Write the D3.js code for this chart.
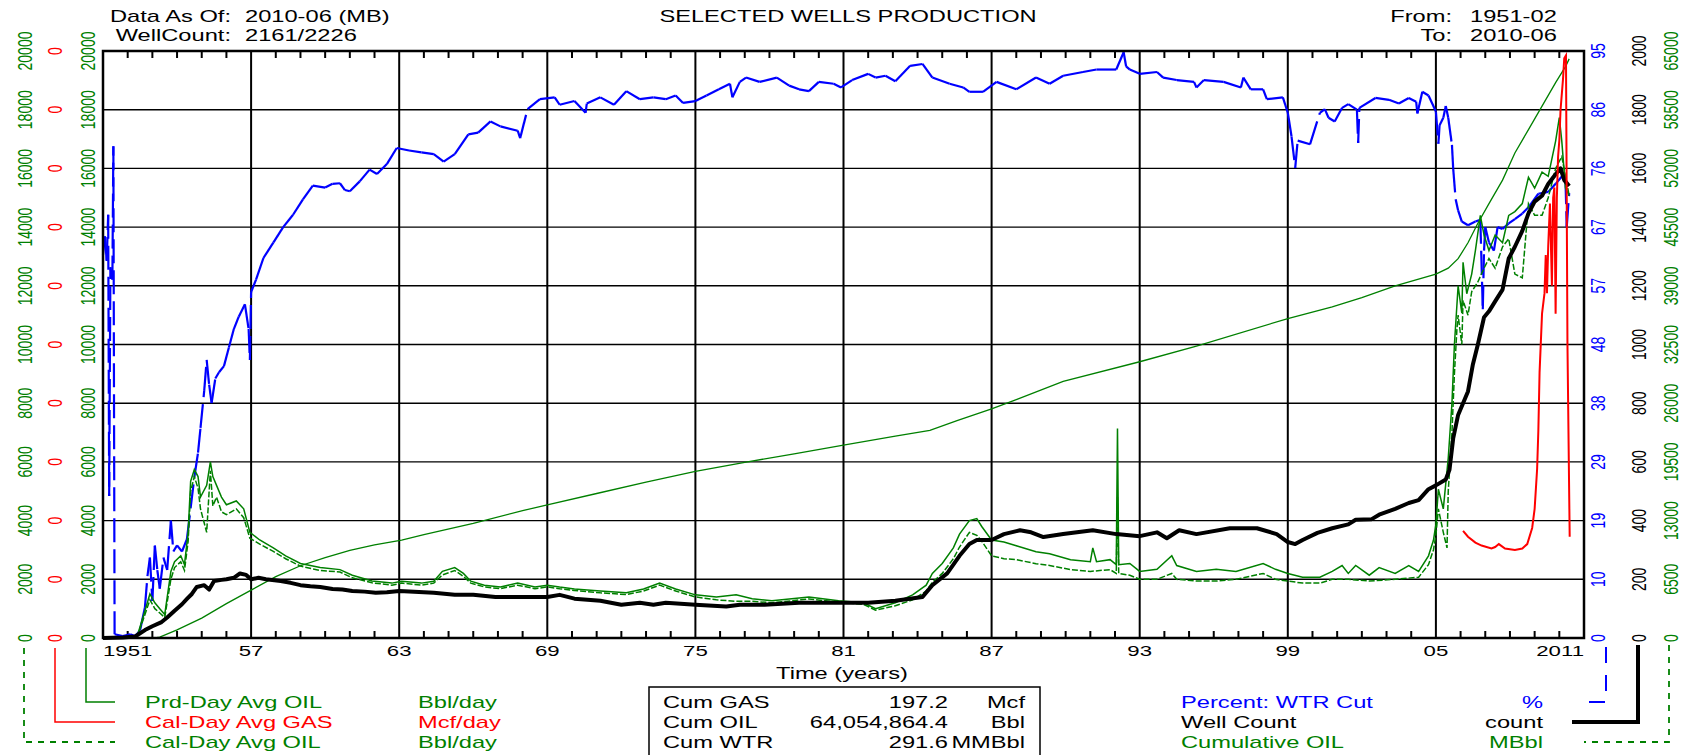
<!DOCTYPE html>
<html>
<head>
<meta charset="utf-8">
<script src="https://cdn.jsdelivr.net/npm/d3@7"></script>
<style>
  body { margin: 0; background: #fff; }
  svg { display: block; }
  text { font-family: Arial, "Liberation Sans", sans-serif; }
</style>
</head>
<body>
<svg id="chart" width="1684" height="755"></svg>
<script>
// Percent WTR cut (%), [year, value]
const wtrCut = [
  [1951.0,62],[1951.08,65],[1951.15,61],[1951.21,68.5],[1951.25,23],[1951.3,60],[1951.38,58],
  [1951.42,79.6],[1951.47,0.6],[1951.8,0.3],[1952.1,0.6],[1952.3,0.3],[1952.5,1.2],[1952.7,5],
  [1952.8,10],[1952.9,13],[1953.0,6],[1953.1,15],[1953.2,11],[1953.3,8],[1953.45,13],[1953.6,11],
  [1953.75,19],[1953.85,14],[1954.0,15],[1954.2,14],[1954.4,16],[1954.55,21],[1954.7,26],
  [1954.85,30],[1954.95,34],[1955.1,40],[1955.2,45],[1955.3,41],[1955.4,38],[1955.55,42],
  [1955.7,43],[1955.9,44],[1956.1,47],[1956.3,50],[1956.5,52],[1956.75,54],[1956.9,50],
  [1956.95,45],[1957.0,56],[1957.2,58],[1957.5,61.5],[1957.9,64],[1958.3,66.5],[1958.7,68.5],
  [1959.1,71],[1959.5,73.2],[1960.0,72.9],[1960.3,73.5],[1960.6,73.6],[1960.8,72.5],[1961.0,72.3],
  [1961.4,73.9],[1961.8,75.8],[1962.1,75.1],[1962.5,76.7],[1962.9,79.3],[1963.4,78.9],
  [1963.9,78.6],[1964.4,78.3],[1964.8,77.1],[1965.25,78.3],[1965.8,81.5],[1966.2,81.8],
  [1966.7,83.6],[1967.1,82.8],[1967.8,82.1],[1967.9,80.9],[1968.2,85.6],[1968.7,87.2],
  [1969.3,87.5],[1969.5,86.3],[1970.1,86.9],[1970.55,85.0],[1970.6,86.5],[1971.15,87.5],
  [1971.7,86.3],[1972.2,88.5],[1972.75,87.2],[1973.3,87.5],[1973.8,87.2],[1974.2,87.8],
  [1974.5,86.6],[1975.0,86.9],[1975.45,87.8],[1975.95,88.8],[1976.4,89.7],[1976.5,87.5],
  [1976.8,90.0],[1977.05,90.7],[1977.6,90.0],[1978.3,90.7],[1978.8,89.4],[1979.2,88.8],
  [1979.6,88.5],[1980.0,90.0],[1980.6,89.7],[1980.9,89.1],[1981.35,90.3],[1982.0,91.3],
  [1982.3,90.7],[1982.7,91.0],[1983.1,90.1],[1983.7,92.6],[1984.2,92.9],[1984.6,90.7],
  [1985.3,89.7],[1985.85,89.1],[1986.1,88.4],[1986.65,88.4],[1987.2,90.0],[1988.0,88.8],
  [1988.8,90.7],[1989.35,89.7],[1989.9,91.0],[1990.7,91.6],[1991.25,92.0],[1992.05,92.0],
  [1992.35,94.8],[1992.45,92.5],[1992.6,92.0],[1993.0,91.3],[1993.7,91.6],[1993.95,90.7],
  [1994.5,90.3],[1995.2,90.0],[1995.3,89.1],[1995.6,90.3],[1996.4,90.0],[1997.1,89.1],
  [1997.2,90.7],[1997.5,88.8],[1998.0,88.8],[1998.15,87.2],[1998.8,87.5],[1999.0,85.0],
  [1999.15,81.2],[1999.3,76.1],[1999.4,80.5],[1999.9,79.9],[2000.3,85.0],[2000.5,85.6],
  [2000.65,84.2],[2000.9,83.6],[2001.2,85.8],[2001.45,86.4],[2001.8,85.5],[2001.85,80.1],
  [2001.9,85.8],[2002.55,87.4],[2003.1,87.1],[2003.5,86.5],[2003.9,87.4],[2004.2,86.8],
  [2004.25,84.9],[2004.45,88.4],[2004.7,87.8],[2005.0,85.2],[2005.1,80.0],[2005.15,83.0],
  [2005.3,84.2],[2005.4,86.1],[2005.5,84.2],[2005.65,79.8],[2005.7,76.0],[2005.8,71.0],
  [2005.9,69.2],[2006.05,67.4],[2006.3,66.8],[2006.6,67.4],[2006.8,67.7],[2006.9,53.2],
  [2006.95,62.7],[2007.0,66.5],[2007.15,64.0],[2007.35,62.7],[2007.5,66.5],[2007.7,66.2],
  [2007.95,67.1],[2008.2,67.8],[2008.5,68.7],[2008.75,69.7],[2009.15,71.9],[2009.55,72.2],
  [2009.85,73.5],[2010.1,74.7],[2010.25,74.1],[2010.3,66.5],[2010.4,72]
];

// Well count, [year, count]
const wellCount = [
  [1951.0,0],[1951.8,2],[1952.3,5],[1952.7,27],[1953.0,40],[1953.35,53],[1953.6,70],[1953.9,93],
  [1954.2,115],[1954.4,133],[1954.6,150],[1954.8,174],[1955.1,180],[1955.3,165],[1955.5,194],
  [1955.8,198],[1956.0,200],[1956.3,205],[1956.55,220],[1956.8,215],[1957.0,200],[1957.3,205],
  [1957.6,200],[1958.2,194],[1958.6,188],[1959.0,180],[1959.4,176],[1959.8,174],[1960.3,167],
  [1960.7,165],[1961.1,160],[1961.6,158],[1962.05,154],[1962.5,156],[1963.0,160],[1964.4,154],
  [1965.25,147],[1966.0,147],[1966.9,140],[1967.8,140],[1969.0,140],[1969.5,147],[1970.1,134],
  [1971.15,127],[1972.0,113],[1972.75,120],[1973.3,113],[1973.8,120],[1975.0,113],[1976.25,107],
  [1976.8,113],[1977.8,113],[1979.2,120],[1981.0,120],[1982.0,120],[1983.1,127],[1984.2,140],
  [1984.6,180],[1985.2,220],[1985.7,280],[1986.1,320],[1986.4,334],[1987.0,334],[1987.5,354],
  [1988.15,367],[1988.6,360],[1989.1,344],[1989.9,354],[1991.1,367],[1992.05,354],[1993.0,347],
  [1993.7,360],[1994.1,340],[1994.6,367],[1995.3,354],[1996.65,374],[1997.75,374],[1998.55,354],
  [1999.0,327],[1999.3,320],[1999.6,334],[2000.2,358],[2000.8,374],[2001.45,387],[2001.75,403],
  [2002.4,405],[2002.7,420],[2003.35,440],[2003.9,460],[2004.3,470],[2004.7,507],[2005.0,520],
  [2005.4,540],[2005.55,573],[2005.7,680],[2005.9,760],[2006.1,800],[2006.3,840],[2006.5,933],
  [2006.7,1000],[2006.95,1093],[2007.15,1113],[2007.4,1147],[2007.7,1187],[2007.95,1293],
  [2008.2,1333],[2008.5,1387],[2008.75,1447],[2009.0,1487],[2009.3,1507],[2009.55,1547],
  [2009.85,1580],[2010.05,1600],[2010.2,1560],[2010.4,1540]
];

// Cumulative OIL (MBbl), [year, value]
const cumOil = [
  [1951.0,0],[1953.1,0],[1953.3,100],[1954.0,900],[1955.0,2200],[1956.0,3800],[1957.0,5300],
  [1958.0,6800],[1959.0,8000],[1960.0,8900],[1961.0,9700],[1962.0,10300],[1963.1,10850],
  [1964.0,11450],[1966.0,12700],[1968.0,14100],[1969.0,14750],[1971.0,16000],[1973.0,17250],
  [1975.0,18440],[1977.0,19450],[1979.0,20400],[1981.0,21350],[1983.1,22350],[1984.5,23000],
  [1985.6,24080],[1987.0,25380],[1988.0,26400],[1989.9,28420],[1993.0,30590],[1995.3,32330],
  [1999.0,35370],[2000.8,36670],[2002.0,37700],[2003.35,39000],[2005.0,40300],[2005.5,40950],
  [2005.9,42000],[2006.3,43770],[2006.7,45930],[2007.15,48100],[2007.7,50700],[2008.2,53700],
  [2008.75,56300],[2009.3,58900],[2009.85,61500],[2010.25,63270],[2010.4,64130]
];

// Prd-Day Avg OIL (Bbl/day), [year, value]
const prdOil = [
  [1951.0,0],[1952.0,0],[1952.4,100],[1952.7,930],[1952.9,1500],[1953.1,1200],[1953.3,1000],
  [1953.5,800],[1953.75,2270],[1953.9,2600],[1954.15,2800],[1954.3,2500],[1954.45,3600],
  [1954.55,5340],[1954.7,5740],[1954.85,5500],[1954.95,4800],[1955.2,5200],[1955.35,6000],
  [1955.45,5500],[1955.6,5200],[1955.8,4800],[1956.0,4540],[1956.4,4670],[1956.7,4400],
  [1956.95,3600],[1957.35,3340],[1957.9,3070],[1958.4,2800],[1959.0,2540],[1959.8,2400],
  [1960.6,2330],[1961.1,2140],[1961.9,1940],[1962.7,1870],[1963.1,1936],[1963.9,1870],
  [1964.4,1936],[1964.75,2270],[1965.25,2400],[1965.6,2200],[1965.9,1936],[1966.45,1800],
  [1967.1,1735],[1967.8,1870],[1968.5,1735],[1969.0,1800],[1969.5,1735],[1970.1,1670],
  [1971.15,1600],[1972.2,1540],[1972.9,1670],[1973.55,1870],[1974.2,1670],[1975.0,1470],
  [1975.85,1400],[1976.65,1470],[1977.3,1340],[1978.1,1270],[1979.6,1400],[1980.8,1270],
  [1981.8,1200],[1982.3,1000],[1983.1,1200],[1983.8,1470],[1984.35,1800],[1984.6,2200],
  [1985.0,2540],[1985.45,3070],[1985.7,3540],[1986.1,4000],[1986.4,4070],[1986.6,3800],
  [1987.0,3340],[1987.5,3270],[1988.0,3140],[1988.8,2940],[1989.35,2870],[1990.2,2670],
  [1991.0,2600],[1991.1,3070],[1991.25,2600],[1991.8,2670],[1992.05,2500],[1992.1,7140],
  [1992.15,2500],[1992.6,2540],[1993.0,2270],[1993.7,2340],[1994.3,2800],[1994.5,2470],
  [1995.3,2270],[1996.1,2340],[1996.9,2270],[1998.0,2540],[1998.5,2340],[1999.0,2200],
  [1999.6,2070],[2000.3,2070],[2000.8,2270],[2001.2,2470],[2001.45,2200],[2001.75,2470],
  [2002.3,2140],[2002.7,2400],[2003.35,2200],[2003.9,2470],[2004.3,2270],[2004.7,2800],
  [2004.9,3330],[2005.0,3870],[2005.1,5070],[2005.3,4400],[2005.5,6130],[2005.65,8000],
  [2005.75,10000],[2005.85,11330],[2005.9,12000],[2006.05,11070],[2006.1,12800],[2006.25,11730],
  [2006.45,12400],[2006.6,13200],[2006.8,14400],[2006.95,13730],[2007.15,13200],[2007.4,13730],
  [2007.7,13470],[2007.95,14400],[2008.2,14530],[2008.5,14800],[2008.75,15700],[2009.0,15330],
  [2009.3,15870],[2009.55,15730],[2009.85,16930],[2010.0,17730],[2010.1,16930],[2010.25,15330],
  [2010.4,15070]
];

// Cal-Day Avg OIL (Bbl/day), [year, value]
const calOil = [
  [1951.0,0],[1952.0,0],[1952.4,80],[1952.7,800],[1952.9,1300],[1953.1,1000],[1953.3,850],
  [1953.5,700],[1953.75,2000],[1953.9,2400],[1954.15,2600],[1954.3,2300],[1954.45,3300],
  [1954.55,5000],[1954.7,5500],[1954.85,5100],[1954.95,4400],[1955.2,3600],[1955.35,5700],
  [1955.45,4500],[1955.6,4800],[1955.8,4300],[1956.0,4200],[1956.4,4400],[1956.7,4100],
  [1956.95,3400],[1957.35,3200],[1957.9,2950],[1958.4,2700],[1959.0,2450],[1959.8,2300],
  [1960.6,2250],[1961.1,2050],[1961.9,1880],[1962.7,1800],[1963.1,1870],[1963.9,1800],
  [1964.4,1870],[1964.75,2150],[1965.25,2300],[1965.6,2100],[1965.9,1870],[1966.45,1740],
  [1967.1,1680],[1967.8,1800],[1968.5,1680],[1969.0,1740],[1969.5,1680],[1970.1,1620],
  [1971.15,1540],[1972.2,1480],[1972.9,1600],[1973.55,1800],[1974.2,1600],[1975.0,1400],
  [1975.85,1300],[1976.65,1250],[1977.3,1250],[1978.1,1200],[1979.6,1330],[1980.8,1220],
  [1981.8,1150],[1982.3,950],[1983.1,1100],[1983.8,1300],[1984.35,1600],[1984.6,1900],
  [1985.0,2200],[1985.45,2700],[1985.7,3100],[1986.1,3600],[1986.4,3500],[1986.6,3300],
  [1987.0,2800],[1987.5,2700],[1988.0,2670],[1988.8,2530],[1989.35,2470],[1990.2,2330],
  [1991.0,2270],[1991.8,2330],[1992.05,2200],[1992.1,4800],[1992.15,2200],[1992.6,2140],
  [1993.0,2000],[1993.7,2000],[1994.3,2200],[1994.5,2000],[1995.3,1940],[1996.1,1940],
  [1996.9,2000],[1998.0,2200],[1998.5,2000],[1999.0,1940],[1999.6,1870],[2000.3,1870],
  [2000.8,2000],[2001.45,2000],[2002.3,1940],[2003.35,2000],[2004.3,2070],[2004.7,2500],
  [2004.9,3000],[2005.0,3500],[2005.1,4400],[2005.3,3600],[2005.45,3070],[2005.5,5000],
  [2005.65,7000],[2005.75,9000],[2005.85,10500],[2005.9,11000],[2006.05,10000],[2006.1,11500],
  [2006.3,11000],[2006.45,11800],[2006.7,12130],[2006.95,12600],[2007.15,12930],[2007.4,12600],
  [2007.7,13330],[2007.95,13600],[2008.2,12400],[2008.5,12270],[2008.75,14800],[2009.0,14400],
  [2009.3,14400],[2009.55,15000],[2009.85,16000],[2010.1,16400],[2010.4,15070]
];

// Cal-Day Avg GAS (Mcf/day), [year, value]
const calGas = [
  [2006.1,0.073],[2006.3,0.069],[2006.6,0.065],[2006.85,0.063],[2007.25,0.061],[2007.4,0.062],
  [2007.55,0.064],[2007.8,0.061],[2008.2,0.060],[2008.5,0.061],[2008.7,0.064],[2008.9,0.075],
  [2009.0,0.088],[2009.1,0.115],[2009.15,0.141],[2009.2,0.181],[2009.3,0.221],[2009.4,0.235],
  [2009.45,0.261],[2009.5,0.235],[2009.55,0.267],[2009.62,0.296],[2009.7,0.240],[2009.75,0.300],
  [2009.8,0.307],[2009.85,0.221],[2009.9,0.300],[2009.95,0.328],[2010.0,0.339],[2010.05,0.360],
  [2010.15,0.381],[2010.2,0.395],[2010.27,0.397],[2010.33,0.200],[2010.42,0.069]
];

// axis ticks and labels
const oilTicks = d3.range(0, 20001, 2000);
const gasTicks = d3.range(0, 0.4001, 0.04);
const wtrTicks = d3.range(0, 95.01, 9.5);
const countTicks = d3.range(0, 2001, 200);
const cumTicks = d3.range(0, 65001, 6500);
const gridYears = [1957, 1963, 1969, 1975, 1981, 1987, 1993, 1999, 2005];
const gridLabels = ['57', '63', '69', '75', '81', '87', '93', '99', '05'];

const headerLeft = [['Data As Of:', '2010-06 (MB)'], ['WellCount:', '2161/2226']];
const headerRight = [['From:', '1951-02'], ['To:', '2010-06']];
const legendLeft = [
  ['Prd-Day Avg OIL', 'Bbl/day', '#008000'],
  ['Cal-Day Avg GAS', 'Mcf/day', '#ff0000'],
  ['Cal-Day Avg OIL', 'Bbl/day', '#008000']
];
const legendRight = [
  ['Percent: WTR Cut', '%', '#0000ff'],
  ['Well Count', 'count', '#000000'],
  ['Cumulative OIL', 'MBbl', '#008000']
];
const cumBox = [
  ['Cum GAS', '197.2', 'Mcf'],
  ['Cum OIL', '64,054,864.4', 'Bbl'],
  ['Cum WTR', '291.6', 'MMBbl']
];

const GREEN = '#008000', RED = '#ff0000', BLUE = '#0000ff';
const SX = 1.48; // the original render is stretched horizontally
const L = 103, R = 1584, T = 51, B = 638;

const svg = d3.select('#chart');

const x = d3.scaleLinear().domain([1951, 2011]).range([L, R]);
const yOil = d3.scaleLinear().domain([0, 20000]).range([B, T]);
const yGas = d3.scaleLinear().domain([0, 0.4]).range([B, T]);
const yWtr = d3.scaleLinear().domain([0, 95]).range([B, T]);
const yCount = d3.scaleLinear().domain([0, 2000]).range([B, T]);
const yCum = d3.scaleLinear().domain([0, 65000]).range([B, T]);

function txt(parent, px, py, s, o = {}) {
  return parent.append('text')
    .attr('transform', `translate(${px},${py}) scale(${SX},1)` + (o.rot ? ' rotate(-90)' : ''))
    .attr('text-anchor', o.anchor || 'start')
    .attr('dy', '0.35em')
    .attr('fill', o.color || '#000')
    .style('font-size', (o.size || 16) + 'px')
    .text(s);
}

// Header
headerLeft.forEach((h, i) => {
  txt(svg, 231, 16 + i * 19, h[0], { anchor: 'end' });
  txt(svg, 245, 16 + i * 19, h[1]);
});
headerRight.forEach((h, i) => {
  txt(svg, 1452, 16 + i * 19, h[0], { anchor: 'end' });
  txt(svg, 1470, 16 + i * 19, h[1]);
});
txt(svg, 848, 16, 'SELECTED WELLS PRODUCTION', { anchor: 'middle' });

// Grid
const grid = svg.append('g');
grid.selectAll('.hg').data(oilTicks.slice(1, -1)).join('line')
  .attr('x1', L).attr('x2', R)
  .attr('y1', d => yOil(d)).attr('y2', d => yOil(d))
  .attr('stroke', '#000').attr('stroke-width', 1.4);
grid.selectAll('.vg').data(gridYears).join('line')
  .attr('x1', d => x(d)).attr('x2', d => x(d))
  .attr('y1', T).attr('y2', B)
  .attr('stroke', '#000').attr('stroke-width', 2);

const minorYears = d3.range(1952, 2011).filter(yr => !gridYears.includes(yr));
grid.selectAll('.tt').data(minorYears).join('line')
  .attr('x1', d => x(d)).attr('x2', d => x(d))
  .attr('y1', T).attr('y2', T + 7)
  .attr('stroke', '#000').attr('stroke-width', 2);
grid.selectAll('.bt').data(minorYears).join('line')
  .attr('x1', d => x(d)).attr('x2', d => x(d))
  .attr('y1', B - 7).attr('y2', B)
  .attr('stroke', '#000').attr('stroke-width', 2);

// X labels
const xl = svg.append('g');
txt(xl, L, 651, '1951', { size: 15 });
gridYears.forEach((yr, i) => txt(xl, x(yr), 651, gridLabels[i], { size: 15, anchor: 'middle' }));
txt(xl, R, 651, '2011', { size: 15, anchor: 'end' });
txt(xl, 842, 673, 'Time (years)', { anchor: 'middle' });

// Y tick labels (rotated)
const fmt0 = d3.format('.0f');
function yLabels(ticks, scale, cx, color, f) {
  const g = svg.append('g');
  ticks.forEach(t => txt(g, cx, scale(t), f(t), { rot: true, size: 14, anchor: 'middle', color }));
}
yLabels(oilTicks, yOil, 25, GREEN, fmt0);
yLabels(gasTicks, yGas, 55, RED, fmt0);
yLabels(oilTicks, yOil, 88, GREEN, fmt0);
yLabels(wtrTicks, yWtr, 1598, BLUE, fmt0);
yLabels(countTicks, yCount, 1639, '#000', fmt0);
yLabels(cumTicks, yCum, 1671, GREEN, fmt0);

// Series
const series = svg.append('g');
const lineOf = ys => d3.line().x(d => x(d[0])).y(d => ys(d[1]));

// water cut: dashed pen, pattern restarts on every segment
series.selectAll('.wtr').data(d3.pairs(wtrCut)).join('line')
  .attr('x1', d => x(d[0][0])).attr('y1', d => yWtr(d[0][1]))
  .attr('x2', d => x(d[1][0])).attr('y2', d => yWtr(d[1][1]))
  .attr('stroke', BLUE).attr('stroke-width', 2.2)
  .attr('stroke-dasharray', '24,7');

series.append('path').datum(cumOil)
  .attr('d', lineOf(yCum))
  .attr('fill', 'none').attr('stroke', GREEN).attr('stroke-width', 1.3);

series.append('path').datum(calOil)
  .attr('d', lineOf(yOil))
  .attr('fill', 'none').attr('stroke', GREEN).attr('stroke-width', 1.5)
  .attr('stroke-dasharray', '6,2');

series.append('path').datum(prdOil)
  .attr('d', lineOf(yOil))
  .attr('fill', 'none').attr('stroke', GREEN).attr('stroke-width', 1.5);

series.append('path').datum(wellCount)
  .attr('d', lineOf(yCount))
  .attr('fill', 'none').attr('stroke', '#000').attr('stroke-width', 4)
  .attr('stroke-linejoin', 'round');

series.append('path').datum(calGas)
  .attr('d', lineOf(yGas))
  .attr('fill', 'none').attr('stroke', RED).attr('stroke-width', 2);

// Plot border
svg.append('rect')
  .attr('x', L).attr('y', T).attr('width', R - L).attr('height', B - T)
  .attr('fill', 'none').attr('stroke', '#000').attr('stroke-width', 2.5);

// Legend connectors
const rows = [702, 722, 742];
const leg = svg.append('g').attr('fill', 'none');
leg.append('path').attr('d', `M86,648V${rows[0]}H115`).attr('stroke', GREEN).attr('stroke-width', 1.5);
leg.append('path').attr('d', `M55,648V${rows[1]}H115`).attr('stroke', RED).attr('stroke-width', 1.5);
leg.append('path').attr('d', `M24,648V${rows[2]}H115`).attr('stroke', GREEN).attr('stroke-width', 1.8)
  .attr('stroke-dasharray', '6,6');
leg.append('path').attr('d', `M1606,647V${rows[0]}H1578`).attr('stroke', BLUE).attr('stroke-width', 2)
  .attr('stroke-dasharray', '16,12');
leg.append('path').attr('d', `M1638,645V${rows[1]}H1572`).attr('stroke', '#000').attr('stroke-width', 4);
leg.append('path').attr('d', `M1669,645V${rows[2]}H1584`).attr('stroke', GREEN).attr('stroke-width', 1.8)
  .attr('stroke-dasharray', '6,6');

legendLeft.forEach((d, i) => {
  txt(svg, 145, rows[i], d[0], { color: d[2] });
  txt(svg, 418, rows[i], d[1], { color: d[2] });
});
legendRight.forEach((d, i) => {
  txt(svg, 1181, rows[i], d[0], { color: d[2] });
  txt(svg, 1543, rows[i], d[1], { color: d[2], anchor: 'end' });
});

// Cumulative box
svg.append('rect')
  .attr('x', 649).attr('y', 687).attr('width', 391).attr('height', 90)
  .attr('fill', 'none').attr('stroke', '#000').attr('stroke-width', 1.5);
cumBox.forEach((d, i) => {
  txt(svg, 663, rows[i], d[0]);
  txt(svg, 948, rows[i], d[1], { anchor: 'end' });
  txt(svg, 1025, rows[i], d[2], { anchor: 'end' });
});
</script>
</body>
</html>
